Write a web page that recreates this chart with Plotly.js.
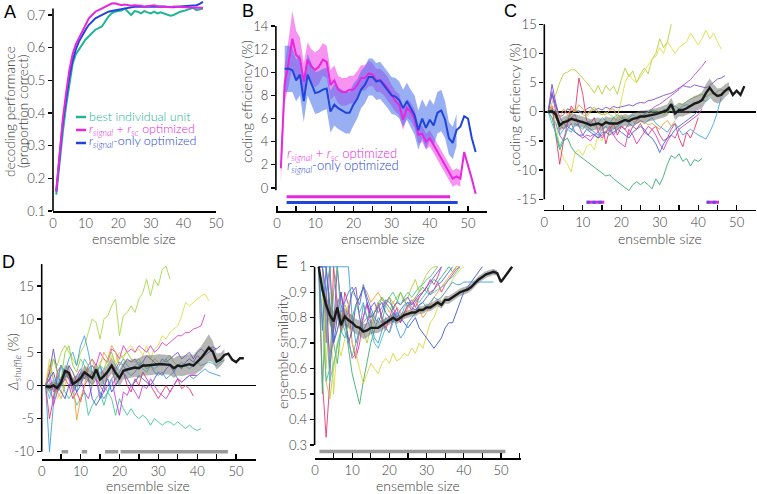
<!DOCTYPE html>
<html>
<head>
<meta charset="utf-8">
<script src="https://cdn.plot.ly/plotly-3.0.1.min.js"></script>
<style>body{margin:0;background:#fff}#fig{width:757px;height:494px}</style>
</head>
<body>
<div id="fig"></div>
<script>
// ---------- data ----------
// A: decoding performance
const perfBest = [0.15, 0.25, 0.34, 0.42, 0.49, 0.55, 0.58, 0.595, 0.61, 0.625, 0.635, 0.645, 0.655, 0.66, 0.665, 0.68, 0.695, 0.705, 0.71, 0.712, 0.714, 0.72, 0.71, 0.70, 0.712, 0.71, 0.705, 0.712, 0.708, 0.705, 0.71, 0.705, 0.708, 0.704, 0.702, 0.698, 0.70, 0.705, 0.71, 0.712, 0.715, 0.72, 0.722, 0.715, 0.718, 0.72]
const perfRS = [0.16, 0.28, 0.38, 0.46, 0.53, 0.58, 0.61, 0.63, 0.65, 0.67, 0.69, 0.70, 0.71, 0.715, 0.72, 0.725, 0.73, 0.735, 0.736, 0.732, 0.73, 0.732, 0.73, 0.728, 0.73, 0.73, 0.728, 0.725, 0.726, 0.728, 0.73, 0.727, 0.725, 0.726, 0.725, 0.724, 0.726, 0.725, 0.724, 0.725, 0.724, 0.723, 0.722, 0.723, 0.722, 0.722]
const perfS = [0.16, 0.27, 0.37, 0.44, 0.51, 0.56, 0.595, 0.62, 0.64, 0.655, 0.67, 0.68, 0.69, 0.695, 0.70, 0.705, 0.71, 0.712, 0.715, 0.716, 0.718, 0.72, 0.722, 0.724, 0.725, 0.725, 0.724, 0.725, 0.726, 0.725, 0.724, 0.725, 0.726, 0.725, 0.726, 0.725, 0.724, 0.725, 0.726, 0.725, 0.726, 0.728, 0.73, 0.73, 0.734, 0.74]

// B: coding efficiency, optimized ensembles (rs starts at size 1, s at size 2)
const effRS = [1.7, 9.0, 10.8, 12.9, 11.5, 11.2, 9.2, 11.1, 10.5, 10.2, 10.5, 11.1, 10.9, 8.9, 9.3, 8.5, 8.3, 8.3, 8.5, 8.5, 8.9, 9.5, 9.5, 9.9, 9.8, 9.3, 9.3, 9.0, 8.6, 8.0, 7.5, 7.2, 5.9, 6.9, 6.6, 6.0, 4.6, 4.7, 4.0, 4.3, 3.7, 3.1, 2.6, 2.0, 1.4, 0.8, 1.0, 0.8, 3.1, 2.0, 0.8, -0.5]
const errRS = [1.3, 1.6, 2.0, 2.4, 2.1, 1.8, 1.6, 1.5, 1.5, 1.5, 1.5, 1.4, 1.4, 1.3, 1.3, 1.2, 1.2, 1.2, 1.2, 1.2, 1.2, 1.1, 1.1, 1.1, 1.0, 1.0, 1.0, 1.0, 1.0, 0.9, 0.9, 0.9, 0.9, 0.8, 0.8, 0.8, 0.8, 0.7, 0.7, 0.7, 0.7, 0.7, 0.7, 0.7, 0.7, 0.7, 0.7, 0.7]
const effS = [10.3, 10.3, 10.2, 9.3, 9.8, 7.5, 9.8, 9.0, 8.2, 8.3, 8.5, 8.6, 6.6, 7.2, 6.9, 6.7, 6.5, 6.5, 7.2, 7.7, 8.5, 8.9, 9.6, 9.6, 9.2, 9.3, 8.9, 8.5, 8.0, 7.9, 7.6, 6.9, 7.5, 6.9, 6.3, 5.0, 6.0, 5.2, 5.9, 5.4, 6.5, 6.7, 5.9, 4.3, 3.9, 5.0, 5.3, 6.2, 6.0, 4.3, 3.1]
const errS = [2.0, 2.0, 1.9, 1.8, 1.8, 1.8, 1.8, 1.8, 1.8, 1.8, 1.8, 1.8, 1.8, 1.8, 1.8, 1.8, 1.8, 1.8, 1.8, 1.7, 1.6, 1.6, 1.6, 1.6, 1.6, 1.6, 1.6, 1.6, 1.6, 1.6, 1.6, 1.6, 1.6, 1.6, 1.7, 1.7, 1.7, 1.8, 1.8, 1.8, 1.8, 1.8, 1.6, 1.4, 1.4, 1.4]
const sigB_RS = [[2.5, 45.3]]
const sigB_S = [[2.5, 47.3]]

// C: coding efficiency relative to best individual units
const effC = [0, 0.1, -0.5, -2.3, -1.8, -1.6, -1.2, -1.4, -1.6, -1.7, -2.0, -2.3, -2.1, -2.0, -2.3, -1.8, -2.0, -2.0, -2.0, -1.7, -1.4, -1.6, -1.2, -1.1, -0.8, -0.8, -0.7, -0.5, -0.4, -0.2, 0, 0.3, 1.3, -0.3, 0.3, 0.3, 0.6, 1.0, 1.4, 1.6, 2.0, 3.2, 4.1, 3.2, 2.7, 2.9, 3.6, 4.1, 2.9, 3.6, 2.9, 4.4]
const errC = [0.2, 0.5, 0.8, 1.0, 1.0, 1.0, 1.0, 1.0, 1.0, 1.0, 1.0, 1.0, 1.0, 1.0, 1.0, 1.0, 1.0, 1.0, 1.0, 1.0, 1.0, 1.0, 1.0, 1.0, 1.0, 1.0, 1.0, 1.0, 1.0, 1.0, 1.0, 1.0, 1.1, 1.1, 1.1, 1.1, 1.2, 1.2, 1.3, 1.3, 1.4, 1.5, 1.6, 1.5, 1.3, 1.2, 1.1, 1.0]
const linesC = [
  ['#b3d236', [0, 1.5, 3, 5, 6.5, 6.8, 7.2, 7.2, 6.5, 5.8, 5.0, 4.2, 3.2, 4.5, 3.0, 4.5, 3.6, 4.4, 3.0, 5.5, 7.5, 6.0, 7.0, 5.0, 6.5, 7.5, 6.5, 9.0, 10.0, 12.5, 11.0, 12.0, 15.0]],
  ['#e2df45', [0, 0.5, -2, -6, -8, -9, -10.3, -7, -6.5, -7.5, -6, -5.5, -6.5, -4, -5, -3, -4, -2, -1, 2, 5, 6.5, 5.5, 5, 6, 7, 8, 9, 9.5, 11, 10, 12, 11, 10, 11, 11.5, 12, 13.5, 12.5, 11.5, 12.5, 14, 12.5, 13.5, 12, 10.7]],
  ['#7a52c4', [0, 4.7, 1.5, -1, -0.5, 0.5, 0.3, 0, 0.2, -0.3, 0.5, 0.8, 0.2, 0.6, 0.3, 0.8, 0.5, 0.9, 0.7, 0.8, 1.0, 1.2, 1.0, 1.4, 1.6, 1.5, 1.9, 2.0, 2.3, 2.6, 2.8, 3.0, 3.2, 3.6, 4.0, 4.5, 4.3, 4.2, 4.6, 4.4, 4.2, 4.1, 4.5, 5.0, 5.6, 5.8, 6.2]],
  ['#b44ccc', [0, 3.5, 1, -4, -5, -3, -2, -3.5, -4, -4.5, -4, -4.2, -3.8, -4.5, -4, -3.5, -3, -4, -3, -2.5, -3, -2, -2.5, -1.5, -1.0, -0.5, 0, 0.5, 1.0, 1.3, 1.8, 2.2, 2.8, 3.2, 3.8, 4.5, 5.0, 5.5, 6.3, 7.0, 7.8, 8.7]],
  ['#e8386c', [0, 1, -4, -9, -5, -2, 1, 0, 5.8, 3, -1.5, -2, -1, -3.5, -2, -5.5, -3, -2, -4, -2.5, -3, -4, -2.5, -3, -2, -3.5, -4, -3, -2.5, -4, -5, -4.5, -3, -2, -4.5, -6, -3.5, -4.5, -3, -1]],
  ['#d840c8', [0, 3, 0, -2, -3, -2, -1, -0.5, -2.5, -4, -4.5, -5, -4, -3.5, -4.5, -3.5, -2.5, -4, -5, -5.5, -6, -3, -4, -5.5, -4.5, -3.5, -2.5, -3, -4, -5.5, -6.5, -5, -4, -4.5, -3, -2.5, -2, -1.5, -1, -0.5, 0.5]],
  ['#4068d8', [0, 3, 1, -1, -2, -2.5, -3, -3.5, -4, -4, -3, -3.5, -4, -4.5, -3.5, -3.5, -4, -3.5, -3, -3.5, -4, -4.5, -3.5, -3, -2.5, -3, -4, -4.5, -5.5, -7, -5.5, -4.5, -4, -3, -2.5, -2, -1.5, -1, -0.5, 0.2]],
  ['#40a6e0', [0, -1, -2, -4, -3, -2.5, -3, -2.5, -2, -1.5, -2.5, -3, -3.5, -4, -3, -2.5, -3.5, -3, -2.5, -2, -1.5, -2, -2.5, -2, -1.5, -2, -1.5, -1, -2, -2.5, -3, -3.5, -2.5, -2, -3, -4, -3.5, -3, -3.5, -4, -4.3, -4.7, -3.5, -2, 0, 2.5]],
  ['#3aab78', [0, -1, -4, -6.5, -5, -4.5, -6, -7, -7.5, -8, -8.5, -9, -9.5, -10, -10.5, -11, -10.8, -11.5, -12, -12.5, -13, -13.5, -12.5, -12, -12.5, -12, -12.5, -13.2, -11.5, -12.5, -11, -9, -7.5, -8, -7.2, -8.5, -8, -9.3, -8.2, -8.5, -8.0]],
  ['#f0a040', [0, 1, 0.5, -1, 0.5, -0.5, 0.5, 0, 1.2, 0.5, -0.5, 0.3, 0.8, 0.2, -0.5, -0.5, 0.3, 0.5, -1, -0.5, -1.5, -1.0, -1.5, -2.0, -1.5, -1.8, -2.2, -2.0, -2.5, -3, -2, -1.5, -2.5, -1.5]],
  ['#8cd24a', [0, 0.5, -1, -3, -2, -1, -0.5, 0.5, 0, -0.5, -0.8, 0, 0.5, -0.2, -0.5, 0, -0.5, -1, -1.5, -1.2, -1.0, -1.5, -1.2, -0.8, -0.5, -1, -0.5, 0, 0.2, 0, -0.5, 0, 0.5, 1.0, 1.5, 1.2, 1.8, 2.2, 2.5, 2.8, 3.0, 2.5, 3.0, 3.2, 3.5, 3.8, 3.5, 3.8]],
  ['#3cc0b0', [0, -2, -3.5, -6, -4.5, -3, -3.5, -2, -2.5, -3, -2, -1.5, -2.5, -2, -1, -1.5, -2, -1, -0.5, -1, -1.5, -1, -0.5, -1, -0.8, -0.3, 0, 0.3, 0, -0.3, 0.3, 0.5, 0.8, 1.0, 0.5, 1.0, 1.2, 1.0, 1.5, 1.8, 2.0, 1.8, 2.3]]
]
const sigC = [[11.0, 15.6], [42.2, 45.4]]

// D: delta shuffle
const effD = [-0.1, -0.3, 0, -0.4, 0.5, 2.2, 1.9, 0.2, 0.6, 1.1, 2.0, 1.6, 1.1, 2.4, 0.9, 1.4, 2.1, 3.0, 1.9, 1.1, 2.2, 2.4, 2.5, 2.7, 2.6, 3.0, 3.0, 3.1, 3.1, 3.2, 3.2, 3.2, 3.1, 2.6, 3.0, 2.9, 3.0, 3.2, 3.0, 3.6, 4.1, 4.9, 5.7, 5.1, 3.6, 3.9, 4.6, 4.8, 3.9, 3.5, 4.1, 4.1]
const errD = [0.4, 0.6, 0.6, 0.7, 0.8, 0.9, 0.9, 0.9, 0.9, 0.9, 1.0, 1.0, 1.0, 1.0, 1.1, 1.1, 1.1, 1.2, 1.2, 1.3, 1.3, 1.4, 1.4, 1.4, 1.5, 1.5, 1.5, 1.5, 1.5, 1.5, 1.5, 1.5, 1.5, 1.5, 1.5, 1.5, 1.5, 1.5, 1.6, 1.7, 1.8, 1.9, 2.0, 1.6, 1.2, 1.0, 0.9]
const linesD = [
  ['#a8d848', [0, 2, 4, 3, 5, 6, 5, 4, 3, 5, 6, 8, 10, 9.5, 7, 10, 10.5, 12, 13, 7.5, 10.5, 11, 12, 11, 13, 14, 16, 13.5, 16, 15, 17.5, 18, 16]],
  ['#d8e048', [0, 4, 1, -2, -1, 1, 3, 2, 1, 0.5, 1.5, 2, 3, 2.5, 3.5, 4, 3, 4.5, 3.5, 5, 4, 5.5, 6, 5, 5.5, 4.5, 6, 4, 5.5, 6, 7.5, 7, 8, 8.5, 9, 10.5, 12.5, 12, 12.5, 13, 13.5, 13.8, 12.8]],
  ['#e040c8', [0, 2, -1, 1, 3, 2, 1, 0, 1.5, 2.5, 1.5, 3, 4, 3, 5, 4, 3.5, 5.5, 5, 4, 6, 5, 5.5, 5, 6, 5.5, 5, 6, 5, 5.5, 6.5, 6, 6.5, 7, 7.5, 7.5, 8, 8, 8.5, 8.7, 9, 10.7]],
  ['#7050d0', [0, 2, 5.5, 2, 0, 1, 3, 2, 0.5, 2, 1, 2.5, 3, 2, 3, 1.5, 2, 3, 2.5, 3.5, 3, 4, 3.5, 4, 3, 3.5, 4.5, 4, 3.5, 3, 4, 3.5, 4, 4.5, 5, 4, 4.5, 5, 4, 5, 5.5, 5, 5.5, 5.8, 5.5, 6.0]],
  ['#40a0e0', [0, -10, -3, 1, 3, 2, 4, 5, 3, 6, 7.5, 5, 2, 1, -1, -2, -1, 0, 1, 2, 3, 2, 1.5, 2, 3, 3.5, 2.5, 3, 2, 1.5, 2, 1, 1.5, 2, 1, 0.5, 1, 1.5, 1, 1.5, 2, 2.5, 2, 1.8, 1.6, 1.4]],
  ['#40c898', [0, -1, -2, 0, 1, -1, -2, -1, -3, -2, -1, -4.5, -3, -2, -1, -3, -1, -2, -4.5, -2, -3.5, -4.5, -3.5, -4.5, -5, -4.5, -5, -6, -5, -5.5, -6, -5.5, -5.5, -6, -5.5, -6, -6.5, -6, -6.5, -6.8, -6.5]],
  ['#e83870', [0, -5, -2, 2, 3, 1, 0, -2, -1, -2.5, 0, 1, 2, 1, 0, -1, 2, 3, 0, 1, 2, 0, -1, 1, 0, 2, 1, 0, -1, -2, -1, 0, -1, 0, 1, -0.5, 0, -0.5, -1.6]],
  ['#f0a040', [0, 3, 1, -1, -2, 0, 2, 1, -5.2, -2, 0, 3, 4, 2, 3, 5, 4, 6, 5, 3, 4, 3.5]],
  ['#c840e0', [0, 1, -3, -1, 0, 2, 1, -1, 0, 1, -1, -2, 0, 1, -2, -1, 0, 1, -2, -4.5, -1, -1.5, 0, -1, -2, 0, -0.5, 1, 0, -1, -1.5, -2, -1, 0, 1, 0.5, 1, 1.5, 1.5, 1.5]],
  ['#90d040', [0, 1, 4, 2, 1, 5, 6, 3, 2, 4, 3, 1, 0, 2, 3, 2.5, 4, 5, 3, 4, 4.5, 5, 4, 3.5, 4, 3, 2.5, 3, 4, 3.5, 3, 4, 4.5, 3.5, 3, 2.5]],
  ['#40c8d0', [0, -2, 1, 0, 3, 1, 2, 0, -1, 2, 4, 3, 2, 1, 3, 0, -1, 1, 2, 3, 4, 3, 2.5, 3, 3.5, 2.5, 2, 3, 2.5, 3, 3.5, 4, 3, 2.5, 3, 3.5, 3, 2.5, 3, 3.5, 3, 3.2, 3.5, 3.3, 3.0, 3.5, 3.8]],
  ['#4060e0', [0, 1, 2, 0, -1, -2, 0, 1, -1, 0, 2, 1, -2, -3, -2, 0, 1, -1, 0, 1, 2, 1, 0, 0.5, 1.5, 1, 0.5, 0, 1, 2, 1.5, 2.5, 3, 2, 3, 2.5, 3.5, 4, 3.5, 4.5, 4, 4.5, 5, 5.3, 5.5]]
]
const sigD = [[5.1, 6.8], [10.3, 11.7], [16.3, 19.7], [20.3, 47.9]]

// E: ensemble similarity
const simE = [1.0, 0.91, 0.85, 0.81, 0.785, 0.84, 0.77, 0.805, 0.79, 0.78, 0.765, 0.76, 0.745, 0.75, 0.76, 0.76, 0.76, 0.77, 0.78, 0.79, 0.80, 0.79, 0.80, 0.81, 0.815, 0.82, 0.82, 0.83, 0.83, 0.84, 0.84, 0.85, 0.86, 0.85, 0.87, 0.87, 0.88, 0.89, 0.90, 0.905, 0.91, 0.92, 0.935, 0.95, 0.96, 0.97, 0.975, 0.98, 0.975, 0.94, 0.96, 0.98, 1.0]
const errE = [0, 0.02, 0.035, 0.04, 0.04, 0.04, 0.035, 0.035, 0.03, 0.03, 0.03, 0.03, 0.03, 0.028, 0.025, 0.022, 0.02, 0.02, 0.018, 0.016, 0.016, 0.016, 0.015, 0.015, 0.015, 0.015, 0.015, 0.015, 0.015, 0.015, 0.015, 0.015, 0.015, 0.015, 0.015, 0.015, 0.015, 0.015, 0.015, 0.015, 0.014, 0.014, 0.014, 0.014, 0.013, 0.013, 0.012, 0.012, 0.01]
const linesE = [
  ['#e83878', [1, 0.55, 0.33, 0.55, 1.0, 0.85, 0.75, 0.9, 0.85, 0.7, 0.64, 0.7, 0.8, 0.85, 0.78, 0.82, 0.86, 0.79, 0.75, 0.8, 0.84, 0.8, 0.78, 0.82, 0.85, 0.83, 0.86, 0.88, 0.9, 0.92, 0.89, 0.91, 0.94, 0.9, 0.93, 0.95, 0.97, 0.99, 1.0]],
  ['#d040c0', [1, 1, 0.7, 1.0, 0.75, 0.85, 0.9, 0.8, 0.72, 0.64, 0.66, 0.75, 0.8, 0.86, 0.82, 0.78, 0.85, 0.8, 0.76, 0.74, 0.8, 0.84, 0.78, 0.82, 0.85, 0.87, 0.84, 0.88, 0.9, 0.92, 0.95, 0.93, 0.96, 1.0]],
  ['#40b070', [1, 0.5, 0.9, 1.0, 0.7, 0.62, 0.75, 0.8, 0.68, 0.58, 0.52, 0.46, 0.55, 0.62, 0.7, 0.75, 0.8, 0.78, 0.85, 0.88, 0.83, 0.86, 0.9, 0.87, 0.84, 0.86, 0.88, 0.9, 0.92, 0.9, 0.93, 0.95, 0.94, 0.96, 0.98, 1.0, 0.98, 1.0]],
  ['#d8d840', [1, 1, 0.6, 0.9, 0.5, 0.7, 0.65, 0.72, 0.78, 0.7, 0.66, 0.6, 0.54, 0.58, 0.62, 0.6, 0.58, 0.62, 0.64, 0.62, 0.66, 0.63, 0.64, 0.66, 0.65, 0.68, 0.66, 0.7, 0.68, 0.73, 0.78, 0.8, 0.84, 0.88, 0.9, 0.92, 0.95, 0.97, 0.99, 1.0]],
  ['#b0d040', [1, 0.9, 0.55, 0.48, 0.6, 0.7, 0.75, 0.8, 0.85, 0.9, 0.88, 0.8, 0.75, 0.7, 0.76, 0.82, 0.86, 0.88, 0.85, 0.82, 0.86, 0.88, 0.9, 0.86, 0.88, 0.92, 0.95, 0.9, 0.94, 0.97, 0.99, 1.0, 1.0]],
  ['#f0a040', [1, 1, 0.8, 0.66, 0.7, 0.75, 0.8, 0.85, 0.82, 0.8, 0.85, 0.88, 0.92, 0.9, 0.86, 0.88, 0.9, 0.87, 0.85, 0.88, 0.86, 0.84, 0.82, 0.8, 0.84, 0.86, 0.88, 0.83, 0.8, 0.82, 0.85, 0.88, 0.9, 0.92, 0.94, 0.96, 0.98, 1.0, 1.0]],
  ['#3a5cd0', [1, 1, 1, 0.85, 0.7, 0.8, 0.9, 0.8, 0.7, 0.75, 0.85, 0.88, 0.92, 0.86, 0.8, 0.82, 0.84, 0.86, 0.82, 0.8, 0.78, 0.82, 0.8, 0.78, 0.76, 0.78, 0.8, 0.76, 0.74, 0.72, 0.7, 0.68, 0.7, 0.72, 0.76, 0.78, 0.78, 0.82, 0.86, 0.9, 0.92, 0.94, 0.96, 0.98, 1.0]],
  ['#40a0e0', [1, 1, 1, 1, 1, 1, 1, 1, 1, 0.8, 0.7, 0.75, 0.85, 0.8, 0.78, 0.72, 0.7, 0.75, 0.8, 0.78, 0.82, 0.76, 0.72, 0.74, 0.78, 0.8, 0.82, 0.85, 0.86, 0.84, 0.86, 0.88, 0.87, 0.88, 0.9, 0.92, 0.94, 0.93, 0.93, 0.94, 0.94, 0.94, 0.94, 0.94, 0.94, 0.94, 0.94, 0.94]],
  ['#40c0c8', [1, 1, 0.8, 0.55, 0.62, 0.68, 0.75, 0.72, 0.78, 0.8, 0.85, 0.82, 0.86, 0.8, 0.75, 0.7, 0.68, 0.72, 0.76, 0.74, 0.78, 0.82, 0.8, 0.84, 0.86, 0.85, 0.87, 0.86, 0.88, 0.9, 0.89, 0.9, 0.91, 0.92, 0.93, 0.95, 0.96, 0.98, 1.0]],
  ['#8050d0', [1, 1, 0.9, 0.6, 0.75, 1.0, 0.85, 0.8, 0.82, 0.9, 0.92, 0.8, 0.75, 0.78, 0.84, 0.86, 0.82, 0.84, 0.87, 0.86, 0.84, 0.86, 0.85, 0.87, 0.88, 0.85, 0.87, 0.89, 0.9, 0.92, 0.94, 0.96, 0.98, 1.0]],
  ['#50c080', [1, 0.8, 0.55, 0.6, 0.9, 1.0, 0.8, 0.75, 0.7, 0.65, 0.7, 0.75, 0.78, 0.8, 0.82, 0.78, 0.84, 0.88, 0.86, 0.88, 0.9, 0.87, 0.85, 0.88, 0.9, 0.88, 0.9, 0.92, 0.93, 0.95, 0.96, 0.98, 1.0]],
  ['#5070e0', [1, 0.75, 1.0, 0.8, 0.7, 0.75, 0.82, 0.86, 0.9, 0.92, 0.88, 0.85, 0.93, 0.88, 0.84, 0.8, 0.78, 0.82, 0.86, 0.84, 0.82, 0.8, 0.83, 0.85, 0.86, 0.84, 0.83, 0.85, 0.86, 0.88, 0.9, 0.91, 0.93, 0.94, 0.96, 0.98, 1.0]]
]
const sigE = [[1.2, 51.2]]

// ---------- helpers ----------
const W = 757, H = 494
const FONT = 'Lato, "Liberation Sans", Arial, sans-serif'
const TXT = '#3a3a3a'
const fx = (p) => p / W
const fy = (p) => 1 - p / H
const sizes = (arr, start = 1) => arr.map((_, i) => i + start)

const MAGENTA = '#e826df'
const BLUE = '#1f45dc'
const TEAL = '#20b596'

const traces = []

function line(n, xs, ys, color, width, extra = {}) {
  traces.push(Object.assign({
    type: 'scatter', mode: 'lines', x: xs, y: ys,
    xaxis: 'x' + n, yaxis: 'y' + n,
    line: { color: color, width: width },
    hoverinfo: 'skip', showlegend: false,
  }, extra))
}

function band(n, xs, ys, errs, color) {
  const m = errs.length
  const xx = xs.slice(0, m)
  const up = errs.map((e, i) => ys[i] + e)
  const lo = errs.map((e, i) => ys[i] - e)
  traces.push({
    type: 'scatter', mode: 'lines',
    x: xx.concat(xx.slice().reverse()),
    y: up.concat(lo.reverse()),
    fill: 'toself', fillcolor: color, line: { width: 0 },
    xaxis: 'x' + n, yaxis: 'y' + n, hoverinfo: 'skip', showlegend: false,
  })
}

function sigBars(n, ranges, level, color, width, dash) {
  const xs = [], ys = []
  ranges.forEach((r) => { xs.push(r[0], r[1], null); ys.push(level, level, null) })
  line(n, xs, ys, color, width, dash ? { line: { color: color, width: width, dash: dash } } : {})
}

// ---------- panel A ----------
line(1, sizes(perfBest), perfBest, TEAL, 2)
line(1, sizes(perfS), perfS, BLUE, 2)
line(1, sizes(perfRS), perfRS, MAGENTA, 2)

// ---------- panel B ----------
band(2, sizes(effRS), effRS, errRS, 'rgba(240,60,230,0.55)')
band(2, sizes(effS, 2), effS, errS, 'rgba(70,110,235,0.55)')
line(2, sizes(effRS), effRS, MAGENTA, 2)
line(2, sizes(effS, 2), effS, BLUE, 2)
sigBars(2, sigB_RS, -0.75, MAGENTA, 3)
sigBars(2, sigB_S, -1.25, BLUE, 3)

// ---------- panel C ----------
linesC.forEach(([c, v]) => line(3, sizes(v), v, c, 1, { opacity: 0.9 }))
band(3, sizes(effC), effC, errC, 'rgba(110,110,110,0.5)')
line(3, sizes(effC), effC, '#1a1a1a', 2.4)
sigBars(3, sigC, -15.5, MAGENTA, 3)
sigBars(3, sigC, -15.5, '#4a55e0', 3, '3px,3px')

// ---------- panel D ----------
linesD.forEach(([c, v]) => line(4, sizes(v), v, c, 1, { opacity: 0.9 }))
band(4, sizes(effD), effD, errD, 'rgba(110,110,110,0.5)')
line(4, sizes(effD), effD, '#1a1a1a', 2.4)
sigBars(4, sigD, -10, '#999', 3.5)

// ---------- panel E ----------
linesE.forEach(([c, v]) => line(5, sizes(v), v, c, 1, { opacity: 0.9 }))
band(5, sizes(simE), simE, errE, 'rgba(110,110,110,0.5)')
line(5, sizes(simE), simE, '#1a1a1a', 2.4)
sigBars(5, sigE, 0.274, '#999', 3.5)

// ---------- axes ----------
const tickfont = { family: FONT, size: 13, color: TXT, weight: 300 }
const layout = {
  width: W, height: H,
  margin: { l: 0, r: 0, t: 0, b: 0 },
  paper_bgcolor: '#fff', plot_bgcolor: 'rgba(0,0,0,0)',
  font: { family: FONT, color: TXT, weight: 300 },
  showlegend: false,
  shapes: [], annotations: [],
}

function panel(n, xpx, ypx, xr, yr, yvals, ytext, spine, inside, zero) {
  const xk = n === 1 ? 'xaxis' : 'xaxis' + n
  const yk = n === 1 ? 'yaxis' : 'yaxis' + n
  const xa = {
    domain: [fx(xpx[0]), fx(xpx[1])], range: xr, anchor: 'y' + n,
    showline: true, linecolor: '#000', linewidth: 1.6,
    ticks: inside ? 'inside' : '', ticklen: 5, tickwidth: 1.3, tickcolor: '#000',
    tickmode: 'linear', tick0: 0, dtick: 10,
    showgrid: false, zeroline: false, tickfont: tickfont, fixedrange: true,
  }
  if (inside) xa.minor = { tick0: 0, dtick: 5, ticks: 'inside', ticklen: 5, tickwidth: 1.3, tickcolor: '#000', showgrid: false }
  layout[xk] = xa
  layout[yk] = {
    domain: [fy(ypx[0]), fy(ypx[1])], range: yr, anchor: 'x' + n,
    showline: false, ticks: 'outside', ticklen: 4, tickwidth: 1.3, tickcolor: '#000',
    tickmode: 'array', tickvals: yvals, ticktext: ytext,
    showgrid: false, zeroline: !!zero, zerolinecolor: '#000', zerolinewidth: 1.6,
    tickfont: tickfont, fixedrange: true,
  }
  layout.shapes.push({
    type: 'line', layer: 'above',
    xref: (n === 1 ? 'x' : 'x' + n) + ' domain', x0: 0, x1: 0,
    yref: n === 1 ? 'y' : 'y' + n, y0: spine[0], y1: spine[1],
    line: { color: '#000', width: 1.6 },
  })
}

const yA = [0.1, 0.2, 0.3, 0.4, 0.5, 0.6, 0.7]
const yB = [0, 2, 4, 6, 8, 10, 12, 14]
const yC = [-15, -10, -5, 0, 5, 10, 15]
const yD = [-10, -5, 0, 5, 10, 15]
const yE = [0.3, 0.4, 0.5, 0.6, 0.7, 0.8, 0.9, 1]

panel(1, [53, 216], [211, 0.3], [0, 50], [0.1, 0.745], yA, yA.map(String), [0.1, 0.72], false)
panel(2, [275.9, 487.1], [211.1, 7.5], [-0.3, 55], [-2, 15.6], yB, yB.map(String), [-0.2, 14], true)
panel(3, [544.3, 755.9], [209.8, 19.6], [0, 55], [-16.8, 15.8], yC, yC.map(String), [-15, 15], true, true)
panel(4, [41.7, 255.5], [459, 262.1], [0, 55], [-11.1, 18.6], yD, yD.map(String), [-10, 18.3], true, true)
panel(5, [314.6, 521.4], [458.2, 264.2], [-0.1, 55.5], [0.248, 1.01], yE, yE.map(String), [0.3, 1], true)

// ---------- text ----------
function note(text, xp, yp, opts = {}) {
  layout.annotations.push(Object.assign({
    text: text, xref: 'paper', yref: 'paper', x: fx(xp), y: fy(yp),
    xanchor: 'center', yanchor: 'middle', showarrow: false,
    font: { family: FONT, size: 14, color: TXT, weight: 300 },
  }, opts))
}

// panel letters
const letterFont = { family: '"Liberation Sans", Arial, sans-serif', size: 18, color: '#000' }
note('A', 2, 12, { xanchor: 'left', font: letterFont })
note('B', 240, 11, { xanchor: 'left', font: letterFont })
note('C', 502, 11, { xanchor: 'left', font: letterFont })
note('D', 0, 262, { xanchor: 'left', font: letterFont })
note('E', 274, 262, { xanchor: 'left', font: letterFont })

// axis titles
note('ensemble size', 134, 238)
note('ensemble size', 383, 238)
note('ensemble size', 660, 238)
note('ensemble size', 148, 485)
note('ensemble size', 418, 485)
const titleA = { family: FONT, size: 13.5, color: TXT, weight: 300 }
note('decoding performance', 10, 112, { textangle: -90, font: titleA })
note('(proportion correct)', 23, 112, { textangle: -90, font: titleA })
note('coding efficiency (%)', 246, 102, { textangle: -90 })
note('coding efficiency (%)', 514, 105, { textangle: -90 })
note('<i>Δ</i><sub><i>shuffle</i></sub> (%)', 13, 362, { textangle: -90 })
note('ensemble similarity', 282, 352, { textangle: -90 })

// legends
const rsText = '<i>r</i><sub><i>signal</i></sub> + <i>r</i><sub><i>sc</i></sub> optimized'
const sText = '<i>r</i><sub><i>signal</i></sub>-only optimized'
const legA = [['best individual unit', TEAL, 116], [rsText, MAGENTA, 129], [sText, BLUE, 142]]
legA.forEach(([t, c, y]) => {
  note(t, 87, y, { xanchor: 'left', font: { family: FONT, size: 12.5, color: c, weight: 300 } })
  layout.shapes.push({ type: 'line', xref: 'paper', yref: 'paper', x0: fx(76), x1: fx(86), y0: fy(y + 1), y1: fy(y + 1), line: { color: c, width: 2.5 } })
})
note(rsText, 285, 154, { xanchor: 'left', font: { family: FONT, size: 13, color: MAGENTA, weight: 300 } })
note(sText, 285, 166, { xanchor: 'left', font: { family: FONT, size: 13, color: BLUE, weight: 300 } })

Plotly.newPlot('fig', traces, layout, { staticPlot: true, displayModeBar: false })
</script>
</body>
</html>
